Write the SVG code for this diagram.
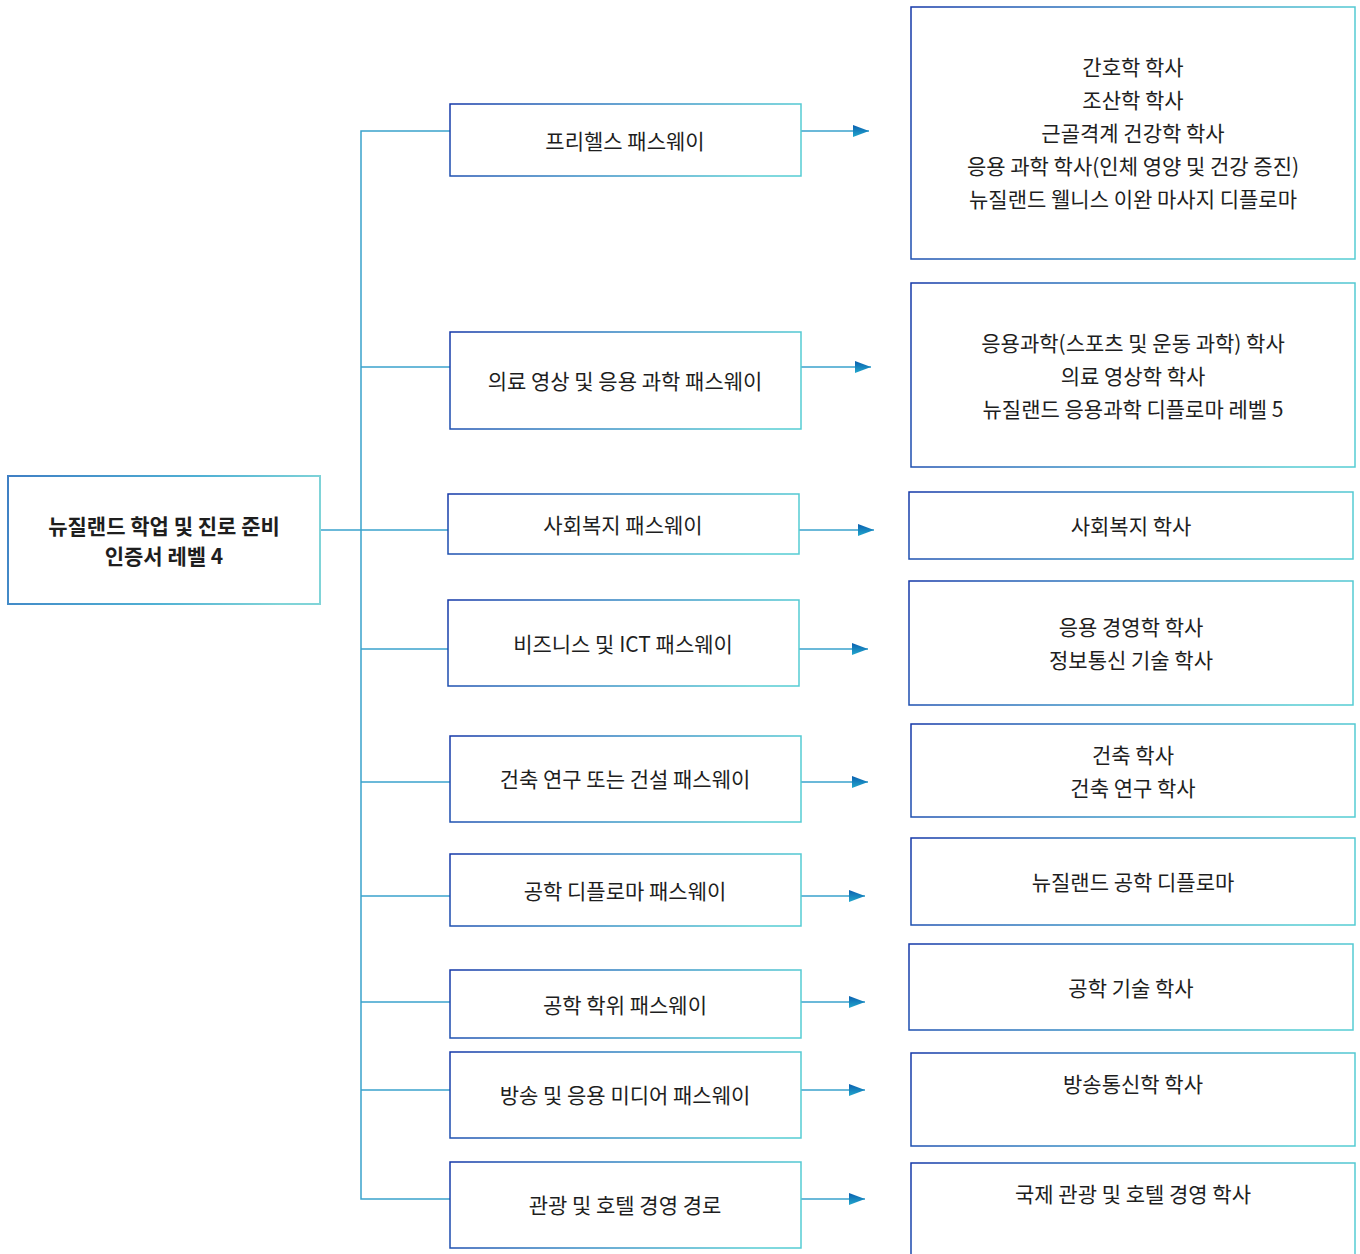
<svg xmlns="http://www.w3.org/2000/svg" width="1360" height="1254" viewBox="0 0 1360 1254">
<defs>
<linearGradient id="gb" x1="0" y1="0" x2="1" y2="0.15">
<stop offset="0" stop-color="#1538a8"/>
<stop offset="0.5" stop-color="#3589c4"/>
<stop offset="1" stop-color="#55ccd3"/>
</linearGradient>
<linearGradient id="gm" x1="0" y1="0" x2="1" y2="0.15">
<stop offset="0" stop-color="#3f7fc4"/>
<stop offset="0.6" stop-color="#4fb0d4"/>
<stop offset="1" stop-color="#80d4d8"/>
</linearGradient>
<linearGradient id="ga" x1="0" y1="0" x2="0" y2="1">
<stop offset="0" stop-color="#0a5fb0"/>
<stop offset="1" stop-color="#22a8cc"/>
</linearGradient>
<marker id="arr" markerUnits="userSpaceOnUse" markerWidth="17" markerHeight="13" refX="16" refY="6" orient="auto">
<path d="M0,0 L16,6 L0,12 Z" fill="url(#ga)"/>
</marker>
<style>
.box{fill:#fff;stroke:url(#gb);stroke-width:1.5}
.mbox{fill:#fff;stroke:url(#gm);stroke-width:2}
.c{fill:none;stroke:#3aa2cc;stroke-width:1.5}
.a{fill:none;stroke:#3aa2cc;stroke-width:1.5;marker-end:url(#arr)}
text{font-family:"Noto Sans CJK KR","Noto Sans",sans-serif;font-size:21px;fill:#1e1e1e;text-anchor:middle;dominant-baseline:central}
.b{font-weight:bold}
</style>
</defs>
<g id="connectors">
<path class="c" d="M320,530 H448"/>
<path class="c" d="M450,131 H361 V1199 H450"/>
<path class="c" d="M361,367 H450"/>
<path class="c" d="M361,649 H448"/>
<path class="c" d="M361,782 H450"/>
<path class="c" d="M361,896 H450"/>
<path class="c" d="M361,1002 H450"/>
<path class="c" d="M361,1090 H450"/>
<path class="a" d="M801,131 H869"/>
<path class="a" d="M801,367 H871"/>
<path class="a" d="M799,530 H874"/>
<path class="a" d="M799,649 H868"/>
<path class="a" d="M801,782 H868"/>
<path class="a" d="M801,896 H865"/>
<path class="a" d="M801,1002 H865"/>
<path class="a" d="M801,1090 H865"/>
<path class="a" d="M801,1199 H865"/>
</g>
<g id="root">
<rect class="mbox" x="8" y="476" width="312" height="128"/>
<text class="b" x="164" y="525">뉴질랜드 학업 및 진로 준비</text>
<text class="b" x="164" y="555">인증서 레벨 4</text>
</g>
<g id="p1"><rect class="box" x="450" y="104" width="351" height="72"/><text x="625" y="140">프리헬스 패스웨이</text></g>
<g id="p2"><rect class="box" x="450" y="332" width="351" height="97"/><text x="625" y="380">의료 영상 및 응용 과학 패스웨이</text></g>
<g id="p3"><rect class="box" x="448" y="494" width="351" height="60"/><text x="623" y="524">사회복지 패스웨이</text></g>
<g id="p4"><rect class="box" x="448" y="600" width="351" height="86"/><text x="623" y="643">비즈니스 및 ICT 패스웨이</text></g>
<g id="p5"><rect class="box" x="450" y="736" width="351" height="86"/><text x="625" y="778">건축 연구 또는 건설 패스웨이</text></g>
<g id="p6"><rect class="box" x="450" y="854" width="351" height="72"/><text x="625" y="890">공학 디플로마 패스웨이</text></g>
<g id="p7"><rect class="box" x="450" y="970" width="351" height="68"/><text x="625" y="1004">공학 학위 패스웨이</text></g>
<g id="p8"><rect class="box" x="450" y="1052" width="351" height="86"/><text x="625" y="1094">방송 및 응용 미디어 패스웨이</text></g>
<g id="p9"><rect class="box" x="450" y="1162" width="351" height="86"/><text x="625" y="1204">관광 및 호텔 경영 경로</text></g>
<g id="d1"><rect class="box" x="911" y="7" width="444" height="252"/>
<text x="1133" y="66">간호학 학사</text>
<text x="1133" y="99">조산학 학사</text>
<text x="1133" y="132">근골격계 건강학 학사</text>
<text x="1133" y="165">응용 과학 학사(인체 영양 및 건강 증진)</text>
<text x="1133" y="198">뉴질랜드 웰니스 이완 마사지 디플로마</text></g>
<g id="d2"><rect class="box" x="911" y="283" width="444" height="184"/>
<text x="1133" y="342">응용과학(스포츠 및 운동 과학) 학사</text>
<text x="1133" y="375">의료 영상학 학사</text>
<text x="1133" y="408">뉴질랜드 응용과학 디플로마 레벨 5</text></g>
<g id="d3"><rect class="box" x="909" y="492" width="444" height="67"/>
<text x="1131" y="525">사회복지 학사</text></g>
<g id="d4"><rect class="box" x="909" y="581" width="444" height="124"/>
<text x="1131" y="626">응용 경영학 학사</text>
<text x="1131" y="659">정보통신 기술 학사</text></g>
<g id="d5"><rect class="box" x="911" y="724" width="444" height="93"/>
<text x="1133" y="754">건축 학사</text>
<text x="1133" y="787">건축 연구 학사</text></g>
<g id="d6"><rect class="box" x="911" y="838" width="444" height="87"/>
<text x="1133" y="881">뉴질랜드 공학 디플로마</text></g>
<g id="d7"><rect class="box" x="909" y="944" width="444" height="86"/>
<text x="1131" y="987">공학 기술 학사</text></g>
<g id="d8"><rect class="box" x="911" y="1053" width="444" height="93"/>
<text x="1133" y="1083">방송통신학 학사</text></g>
<g id="d9"><rect class="box" x="911" y="1163" width="444" height="120"/>
<text x="1133" y="1193">국제 관광 및 호텔 경영 학사</text></g>
</svg>
